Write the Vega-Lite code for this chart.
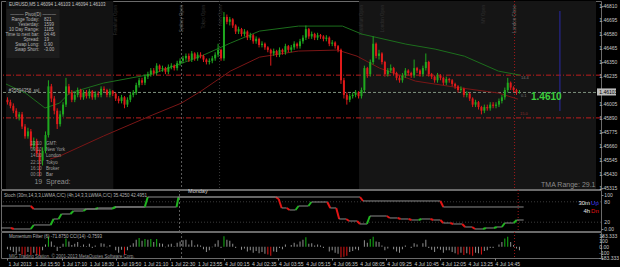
{
"$schema": "https://vega.github.io/schema/vega-lite/v6.json",
"background": "#000000",
"padding": 0,
"spacing": 1,
"bounds": "flush",
"data": {"values": [{}]},
"config": {
  "font": "Liberation Sans",
  "view": {"stroke": "#6a6a6a", "strokeWidth": 1},
  "axis": {"title": null, "grid": false, "labels": false, "ticks": false, "domain": false, "tickColor": "#808080", "tickSize": 2},
  "text": {"font": "Liberation Sans"}
},
"datasets": {
  "candles": [
{"t":0,"o":1.4604,"h":1.4606,"l":1.4600,"c":1.4602,"m":-40},
{"t":1,"o":1.4602,"h":1.4604,"l":1.4597,"c":1.4599,"m":-60},
{"t":2,"o":1.4599,"h":1.4601,"l":1.4593,"c":1.4595,"m":-90},
{"t":3,"o":1.4595,"h":1.4597,"l":1.4588,"c":1.4590,"m":-120},
{"t":4,"o":1.4590,"h":1.4594,"l":1.4587,"c":1.4592,"m":-80},
{"t":5,"o":1.4592,"h":1.4594,"l":1.4580,"c":1.4582,"m":-130},
{"t":6,"o":1.4582,"h":1.4584,"l":1.4572,"c":1.4574,"m":-150},
{"t":7,"o":1.4574,"h":1.4581,"l":1.4572,"c":1.4578,"m":-90},
{"t":8,"o":1.4578,"h":1.4580,"l":1.4564,"c":1.4566,"m":-140},
{"t":9,"o":1.4566,"h":1.4573,"l":1.4563,"c":1.4570,"m":-100},
{"t":10,"o":1.4570,"h":1.4572,"l":1.4557,"c":1.4560,"m":-130},
{"t":11,"o":1.4560,"h":1.4563,"l":1.4541,"c":1.4554,"m":-150},
{"t":12,"o":1.4554,"h":1.4565,"l":1.4550,"c":1.4562,"m":-60},
{"t":13,"o":1.4562,"h":1.4578,"l":1.4560,"c":1.4575,"m":40},
{"t":14,"o":1.4575,"h":1.4620,"l":1.4573,"c":1.4615,"m":170},
{"t":15,"o":1.4615,"h":1.4617,"l":1.4602,"c":1.4605,"m":90},
{"t":16,"o":1.4605,"h":1.4607,"l":1.4592,"c":1.4595,"m":20},
{"t":17,"o":1.4595,"h":1.4597,"l":1.4580,"c":1.4584,"m":-70},
{"t":18,"o":1.4584,"h":1.4595,"l":1.4582,"c":1.4592,"m":-20},
{"t":19,"o":1.4592,"h":1.4602,"l":1.4590,"c":1.4600,"m":50},
{"t":20,"o":1.4600,"h":1.4622,"l":1.4598,"c":1.4615,"m":140},
{"t":21,"o":1.4615,"h":1.4617,"l":1.4608,"c":1.4610,"m":90},
{"t":22,"o":1.4610,"h":1.4612,"l":1.4602,"c":1.4604,"m":30},
{"t":23,"o":1.4604,"h":1.4610,"l":1.4602,"c":1.4608,"m":50},
{"t":24,"o":1.4608,"h":1.4614,"l":1.4606,"c":1.4612,"m":80},
{"t":25,"o":1.4612,"h":1.4613,"l":1.4604,"c":1.4606,"m":10},
{"t":26,"o":1.4606,"h":1.4612,"l":1.4604,"c":1.4610,"m":40},
{"t":27,"o":1.4610,"h":1.4612,"l":1.4605,"c":1.4607,"m":10},
{"t":28,"o":1.4607,"h":1.4613,"l":1.4605,"c":1.4611,"m":50},
{"t":29,"o":1.4611,"h":1.4612,"l":1.4604,"c":1.4606,"m":-20},
{"t":30,"o":1.4606,"h":1.4611,"l":1.4604,"c":1.4609,"m":20},
{"t":31,"o":1.4609,"h":1.4611,"l":1.4606,"c":1.4608,"m":0},
{"t":32,"o":1.4608,"h":1.4615,"l":1.4606,"c":1.4613,"m":60},
{"t":33,"o":1.4613,"h":1.4615,"l":1.4610,"c":1.4612,"m":50},
{"t":34,"o":1.4612,"h":1.4613,"l":1.4606,"c":1.4608,"m":-10},
{"t":35,"o":1.4608,"h":1.4613,"l":1.4606,"c":1.4611,"m":30},
{"t":36,"o":1.4611,"h":1.4612,"l":1.4607,"c":1.4609,"m":0},
{"t":37,"o":1.4609,"h":1.4610,"l":1.4603,"c":1.4605,"m":-60},
{"t":38,"o":1.4605,"h":1.4607,"l":1.4601,"c":1.4603,"m":-100},
{"t":39,"o":1.4603,"h":1.4608,"l":1.4601,"c":1.4606,"m":-50},
{"t":40,"o":1.4606,"h":1.4607,"l":1.4597,"c":1.4600,"m":-130},
{"t":41,"o":1.4600,"h":1.4606,"l":1.4598,"c":1.4604,"m":-60},
{"t":42,"o":1.4604,"h":1.4610,"l":1.4602,"c":1.4608,"m":20},
{"t":43,"o":1.4608,"h":1.4612,"l":1.4606,"c":1.4610,"m":60},
{"t":44,"o":1.4610,"h":1.4618,"l":1.4608,"c":1.4616,"m":120},
{"t":45,"o":1.4616,"h":1.4622,"l":1.4614,"c":1.4620,"m":150},
{"t":46,"o":1.4620,"h":1.4622,"l":1.4616,"c":1.4618,"m":100},
{"t":47,"o":1.4618,"h":1.4625,"l":1.4616,"c":1.4623,"m":130},
{"t":48,"o":1.4623,"h":1.4627,"l":1.4621,"c":1.4625,"m":120},
{"t":49,"o":1.4625,"h":1.4630,"l":1.4623,"c":1.4628,"m":130},
{"t":50,"o":1.4628,"h":1.4630,"l":1.4624,"c":1.4626,"m":80},
{"t":51,"o":1.4626,"h":1.4634,"l":1.4624,"c":1.4632,"m":130},
{"t":52,"o":1.4632,"h":1.4633,"l":1.4627,"c":1.4629,"m":60},
{"t":53,"o":1.4629,"h":1.4632,"l":1.4627,"c":1.4630,"m":50},
{"t":54,"o":1.4630,"h":1.4631,"l":1.4625,"c":1.4627,"m":-10},
{"t":55,"o":1.4627,"h":1.4633,"l":1.4625,"c":1.4631,"m":40},
{"t":56,"o":1.4631,"h":1.4634,"l":1.4629,"c":1.4632,"m":50},
{"t":57,"o":1.4632,"h":1.4633,"l":1.4628,"c":1.4630,"m":10},
{"t":58,"o":1.4630,"h":1.4636,"l":1.4628,"c":1.4634,"m":70},
{"t":59,"o":1.4634,"h":1.4638,"l":1.4632,"c":1.4636,"m":90},
{"t":60,"o":1.4636,"h":1.4640,"l":1.4634,"c":1.4638,"m":110},
{"t":61,"o":1.4638,"h":1.4642,"l":1.4636,"c":1.4640,"m":120},
{"t":62,"o":1.4640,"h":1.4642,"l":1.4635,"c":1.4637,"m":40},
{"t":63,"o":1.4637,"h":1.4644,"l":1.4635,"c":1.4642,"m":110},
{"t":64,"o":1.4642,"h":1.4643,"l":1.4636,"c":1.4638,"m":20},
{"t":65,"o":1.4638,"h":1.4643,"l":1.4636,"c":1.4641,"m":40},
{"t":66,"o":1.4641,"h":1.4643,"l":1.4638,"c":1.4640,"m":20},
{"t":67,"o":1.4640,"h":1.4641,"l":1.4635,"c":1.4637,"m":-40},
{"t":68,"o":1.4637,"h":1.4638,"l":1.4633,"c":1.4635,"m":-90},
{"t":69,"o":1.4635,"h":1.4638,"l":1.4633,"c":1.4636,"m":-60},
{"t":70,"o":1.4636,"h":1.4640,"l":1.4634,"c":1.4638,"m":-10},
{"t":71,"o":1.4638,"h":1.4643,"l":1.4636,"c":1.4641,"m":50},
{"t":72,"o":1.4641,"h":1.4650,"l":1.4639,"c":1.4645,"m":110},
{"t":73,"o":1.4645,"h":1.4646,"l":1.4636,"c":1.4638,"m":-20},
{"t":74,"o":1.4638,"h":1.4676,"l":1.4636,"c":1.4672,"m":180},
{"t":75,"o":1.4672,"h":1.4674,"l":1.4666,"c":1.4668,"m":120},
{"t":76,"o":1.4668,"h":1.4672,"l":1.4665,"c":1.4670,"m":100},
{"t":77,"o":1.4670,"h":1.4671,"l":1.4663,"c":1.4665,"m":50},
{"t":78,"o":1.4665,"h":1.4666,"l":1.4658,"c":1.4660,"m":-20},
{"t":79,"o":1.4660,"h":1.4664,"l":1.4658,"c":1.4662,"m":0},
{"t":80,"o":1.4662,"h":1.4663,"l":1.4656,"c":1.4658,"m":-50},
{"t":81,"o":1.4658,"h":1.4662,"l":1.4656,"c":1.4660,"m":-30},
{"t":82,"o":1.4660,"h":1.4661,"l":1.4653,"c":1.4655,"m":-80},
{"t":83,"o":1.4655,"h":1.4659,"l":1.4653,"c":1.4657,"m":-60},
{"t":84,"o":1.4657,"h":1.4658,"l":1.4650,"c":1.4652,"m":-100},
{"t":85,"o":1.4652,"h":1.4656,"l":1.4650,"c":1.4654,"m":-70},
{"t":86,"o":1.4654,"h":1.4655,"l":1.4647,"c":1.4649,"m":-110},
{"t":87,"o":1.4649,"h":1.4652,"l":1.4647,"c":1.4650,"m":-90},
{"t":88,"o":1.4650,"h":1.4651,"l":1.4645,"c":1.4647,"m":-120},
{"t":89,"o":1.4647,"h":1.4648,"l":1.4643,"c":1.4645,"m":-130},
{"t":90,"o":1.4645,"h":1.4646,"l":1.4632,"c":1.4642,"m":-150},
{"t":91,"o":1.4642,"h":1.4646,"l":1.4640,"c":1.4644,"m":-80},
{"t":92,"o":1.4644,"h":1.4645,"l":1.4639,"c":1.4641,"m":-90},
{"t":93,"o":1.4641,"h":1.4647,"l":1.4639,"c":1.4645,"m":-20},
{"t":94,"o":1.4645,"h":1.4646,"l":1.4641,"c":1.4643,"m":-40},
{"t":95,"o":1.4643,"h":1.4650,"l":1.4641,"c":1.4648,"m":40},
{"t":96,"o":1.4648,"h":1.4649,"l":1.4643,"c":1.4645,"m":0},
{"t":97,"o":1.4645,"h":1.4649,"l":1.4643,"c":1.4647,"m":30},
{"t":98,"o":1.4647,"h":1.4652,"l":1.4645,"c":1.4650,"m":70},
{"t":99,"o":1.4650,"h":1.4651,"l":1.4646,"c":1.4648,"m":40},
{"t":100,"o":1.4648,"h":1.4654,"l":1.4646,"c":1.4652,"m":90},
{"t":101,"o":1.4652,"h":1.4657,"l":1.4650,"c":1.4655,"m":120},
{"t":102,"o":1.4655,"h":1.4665,"l":1.4653,"c":1.4662,"m":160},
{"t":103,"o":1.4662,"h":1.4663,"l":1.4654,"c":1.4656,"m":50},
{"t":104,"o":1.4656,"h":1.4660,"l":1.4654,"c":1.4658,"m":60},
{"t":105,"o":1.4658,"h":1.4659,"l":1.4653,"c":1.4655,"m":20},
{"t":106,"o":1.4655,"h":1.4659,"l":1.4653,"c":1.4657,"m":40},
{"t":107,"o":1.4657,"h":1.4658,"l":1.4654,"c":1.4656,"m":20},
{"t":108,"o":1.4656,"h":1.4657,"l":1.4652,"c":1.4654,"m":-20},
{"t":109,"o":1.4654,"h":1.4657,"l":1.4652,"c":1.4655,"m":0},
{"t":110,"o":1.4655,"h":1.4656,"l":1.4648,"c":1.4650,"m":-80},
{"t":111,"o":1.4650,"h":1.4653,"l":1.4648,"c":1.4651,"m":-60},
{"t":112,"o":1.4651,"h":1.4652,"l":1.4646,"c":1.4648,"m":-100},
{"t":113,"o":1.4648,"h":1.4649,"l":1.4643,"c":1.4645,"m":-120},
{"t":114,"o":1.4645,"h":1.4646,"l":1.4617,"c":1.4620,"m":-180},
{"t":115,"o":1.4620,"h":1.4622,"l":1.4605,"c":1.4608,"m":-170},
{"t":116,"o":1.4608,"h":1.4610,"l":1.4600,"c":1.4604,"m":-150},
{"t":117,"o":1.4604,"h":1.4609,"l":1.4602,"c":1.4607,"m":-90},
{"t":118,"o":1.4607,"h":1.4610,"l":1.4605,"c":1.4608,"m":-70},
{"t":119,"o":1.4608,"h":1.4612,"l":1.4606,"c":1.4610,"m":-40},
{"t":120,"o":1.4610,"h":1.4611,"l":1.4605,"c":1.4607,"m":-60},
{"t":121,"o":1.4607,"h":1.4614,"l":1.4605,"c":1.4612,"m":0},
{"t":122,"o":1.4612,"h":1.4632,"l":1.4610,"c":1.4630,"m":110},
{"t":123,"o":1.4630,"h":1.4631,"l":1.4622,"c":1.4625,"m":70},
{"t":124,"o":1.4625,"h":1.4637,"l":1.4623,"c":1.4635,"m":130},
{"t":125,"o":1.4635,"h":1.4656,"l":1.4633,"c":1.4650,"m":170},
{"t":126,"o":1.4650,"h":1.4651,"l":1.4638,"c":1.4640,"m":90},
{"t":127,"o":1.4640,"h":1.4645,"l":1.4637,"c":1.4642,"m":80},
{"t":128,"o":1.4642,"h":1.4643,"l":1.4633,"c":1.4635,"m":20},
{"t":129,"o":1.4635,"h":1.4636,"l":1.4623,"c":1.4625,"m":-60},
{"t":130,"o":1.4625,"h":1.4630,"l":1.4623,"c":1.4628,"m":-30},
{"t":131,"o":1.4628,"h":1.4633,"l":1.4626,"c":1.4630,"m":0},
{"t":132,"o":1.4630,"h":1.4631,"l":1.4624,"c":1.4626,"m":-40},
{"t":133,"o":1.4626,"h":1.4627,"l":1.4620,"c":1.4622,"m":-80},
{"t":134,"o":1.4622,"h":1.4624,"l":1.4618,"c":1.4620,"m":-100},
{"t":135,"o":1.4620,"h":1.4626,"l":1.4618,"c":1.4624,"m":-40},
{"t":136,"o":1.4624,"h":1.4630,"l":1.4622,"c":1.4628,"m":20},
{"t":137,"o":1.4628,"h":1.4629,"l":1.4624,"c":1.4626,"m":0},
{"t":138,"o":1.4626,"h":1.4627,"l":1.4622,"c":1.4624,"m":-20},
{"t":139,"o":1.4624,"h":1.4637,"l":1.4622,"c":1.4630,"m":60},
{"t":140,"o":1.4630,"h":1.4631,"l":1.4626,"c":1.4628,"m":40},
{"t":141,"o":1.4628,"h":1.4629,"l":1.4623,"c":1.4625,"m":0},
{"t":142,"o":1.4625,"h":1.4632,"l":1.4623,"c":1.4630,"m":60},
{"t":143,"o":1.4630,"h":1.4642,"l":1.4628,"c":1.4635,"m":120},
{"t":144,"o":1.4635,"h":1.4636,"l":1.4623,"c":1.4625,"m":-20},
{"t":145,"o":1.4625,"h":1.4626,"l":1.4621,"c":1.4623,"m":-50},
{"t":146,"o":1.4623,"h":1.4624,"l":1.4618,"c":1.4620,"m":-90},
{"t":147,"o":1.4620,"h":1.4626,"l":1.4618,"c":1.4624,"m":-30},
{"t":148,"o":1.4624,"h":1.4625,"l":1.4620,"c":1.4622,"m":-50},
{"t":149,"o":1.4622,"h":1.4623,"l":1.4616,"c":1.4618,"m":-100},
{"t":150,"o":1.4618,"h":1.4623,"l":1.4616,"c":1.4621,"m":-60},
{"t":151,"o":1.4621,"h":1.4622,"l":1.4618,"c":1.4620,"m":-60},
{"t":152,"o":1.4620,"h":1.4621,"l":1.4615,"c":1.4617,"m":-90},
{"t":153,"o":1.4617,"h":1.4618,"l":1.4613,"c":1.4615,"m":-110},
{"t":154,"o":1.4615,"h":1.4616,"l":1.4610,"c":1.4612,"m":-130},
{"t":155,"o":1.4612,"h":1.4615,"l":1.4610,"c":1.4613,"m":-100},
{"t":156,"o":1.4613,"h":1.4614,"l":1.4606,"c":1.4608,"m":-140},
{"t":157,"o":1.4608,"h":1.4611,"l":1.4606,"c":1.4609,"m":-110},
{"t":158,"o":1.4609,"h":1.4610,"l":1.4603,"c":1.4605,"m":-130},
{"t":159,"o":1.4605,"h":1.4606,"l":1.4598,"c":1.4600,"m":-150},
{"t":160,"o":1.4600,"h":1.4604,"l":1.4598,"c":1.4602,"m":-100},
{"t":161,"o":1.4602,"h":1.4603,"l":1.4596,"c":1.4598,"m":-110},
{"t":162,"o":1.4598,"h":1.4599,"l":1.4592,"c":1.4595,"m":-130},
{"t":163,"o":1.4595,"h":1.4600,"l":1.4593,"c":1.4598,"m":-70},
{"t":164,"o":1.4598,"h":1.4600,"l":1.4595,"c":1.4597,"m":-60},
{"t":165,"o":1.4597,"h":1.4602,"l":1.4595,"c":1.4600,"m":-20},
{"t":166,"o":1.4600,"h":1.4602,"l":1.4597,"c":1.4599,"m":-20},
{"t":167,"o":1.4599,"h":1.4602,"l":1.4597,"c":1.4600,"m":0},
{"t":168,"o":1.4600,"h":1.4605,"l":1.4598,"c":1.4603,"m":40},
{"t":169,"o":1.4603,"h":1.4608,"l":1.4601,"c":1.4606,"m":80},
{"t":170,"o":1.4606,"h":1.4614,"l":1.4604,"c":1.4612,"m":140},
{"t":171,"o":1.4612,"h":1.4622,"l":1.4610,"c":1.4618,"m":170},
{"t":172,"o":1.4618,"h":1.4619,"l":1.4612,"c":1.4614,"m":80},
{"t":173,"o":1.4614,"h":1.4615,"l":1.4610,"c":1.4612,"m":30},
{"t":174,"o":1.4612,"h":1.4613,"l":1.4608,"c":1.4610,"m":-30},
{"t":175,"o":1.4610,"h":1.4612,"l":1.4609,"c":1.4610,"m":-60}
  ],
  "tma": [
{"b":"u","t":-0.5,"p":1.46169},{"b":"u","t":6.17,"p":1.46095},{"b":"u","t":12.83,"p":1.45972},{"b":"u","t":17.83,"p":1.46013},{"b":"u","t":21.17,"p":1.46095},{"b":"u","t":32.83,"p":1.46177},{"b":"u","t":49.5,"p":1.46251},{"b":"u","t":66.17,"p":1.46398},{"b":"u","t":76.17,"p":1.46505},{"b":"u","t":86.17,"p":1.46604},{"b":"u","t":99.5,"p":1.46645},{"b":"u","t":114.5,"p":1.46645},{"b":"u","t":121.17,"p":1.46579},{"b":"u","t":136.17,"p":1.46497},{"b":"u","t":146.17,"p":1.46456},{"b":"u","t":156.17,"p":1.46398},{"b":"u","t":167.83,"p":1.46275},{"b":"u","t":175.17,"p":1.46242},
{"b":"l","t":14.5,"p":1.45553},{"b":"l","t":17.83,"p":1.45577},{"b":"l","t":32.83,"p":1.45742},{"b":"l","t":49.5,"p":1.45914},{"b":"l","t":59.5,"p":1.46013},{"b":"l","t":66.17,"p":1.46111},{"b":"l","t":76.17,"p":1.46275},{"b":"l","t":86.17,"p":1.4639},{"b":"l","t":99.5,"p":1.4644},{"b":"l","t":112.83,"p":1.46448},{"b":"l","t":119.5,"p":1.46398},{"b":"l","t":127.17,"p":1.463},{"b":"l","t":139.5,"p":1.46193},{"b":"l","t":152.83,"p":1.46144},{"b":"l","t":167.83,"p":1.46095},{"b":"l","t":174.5,"p":1.46045}
  ],
  "stoch": [
{"a":-0.5,"b":2.83,"u":3,"w":3,"d":"f"},{"a":2.83,"b":3.83,"u":3,"w":0,"d":"d"},{"a":3.83,"b":9.5,"u":0,"w":0,"d":"f"},{"a":9.5,"b":10.5,"u":0,"w":11.8,"d":"u"},{"a":10.5,"b":16.17,"u":11.8,"w":11.8,"d":"f"},{"a":16.17,"b":17.17,"u":11.8,"w":29.4,"d":"u"},{"a":17.17,"b":18.83,"u":29.4,"w":29.4,"d":"f"},{"a":18.83,"b":19.83,"u":29.4,"w":44.1,"d":"u"},{"a":19.83,"b":22.83,"u":44.1,"w":44.1,"d":"f"},{"a":22.83,"b":23.83,"u":44.1,"w":52.9,"d":"u"},{"a":23.83,"b":27.17,"u":52.9,"w":52.9,"d":"f"},{"a":27.17,"b":28.17,"u":52.9,"w":58.8,"d":"u"},{"a":28.17,"b":31.17,"u":58.8,"w":58.8,"d":"f"},{"a":31.17,"b":32.17,"u":58.8,"w":61.8,"d":"u"},{"a":32.17,"b":37.17,"u":61.8,"w":61.8,"d":"f"},{"a":37.17,"b":38.17,"u":61.8,"w":64.7,"d":"u"},{"a":38.17,"b":58.5,"u":64.7,"w":64.7,"d":"f"},{"a":58.5,"b":59.17,"u":64.7,"w":94.1,"d":"u"},{"a":59.17,"b":91.83,"u":94.1,"w":94.1,"d":"f"},{"a":91.83,"b":92.83,"u":94.1,"w":88.2,"d":"d"},{"a":92.83,"b":93.83,"u":88.2,"w":61.8,"d":"d"},{"a":93.83,"b":95.5,"u":61.8,"w":61.8,"d":"f"},{"a":95.5,"b":96.5,"u":61.8,"w":55.9,"d":"d"},{"a":96.5,"b":98.5,"u":55.9,"w":55.9,"d":"f"},{"a":98.5,"b":99.5,"u":55.9,"w":67.6,"d":"u"},{"a":99.5,"b":102.83,"u":67.6,"w":67.6,"d":"f"},{"a":102.83,"b":103.83,"u":67.6,"w":79.4,"d":"u"},{"a":103.83,"b":109.17,"u":79.4,"w":79.4,"d":"f"},{"a":109.17,"b":110.17,"u":79.4,"w":61.8,"d":"d"},{"a":110.17,"b":112.17,"u":61.8,"w":61.8,"d":"f"},{"a":112.17,"b":113.17,"u":61.8,"w":29.4,"d":"d"},{"a":113.17,"b":115.5,"u":29.4,"w":29.4,"d":"f"},{"a":115.5,"b":116.5,"u":29.4,"w":23.5,"d":"d"},{"a":116.5,"b":119.17,"u":23.5,"w":23.5,"d":"f"},{"a":119.17,"b":120.17,"u":23.5,"w":14.7,"d":"d"},{"a":120.17,"b":122.5,"u":14.7,"w":14.7,"d":"f"},{"a":122.5,"b":123.5,"u":14.7,"w":38.2,"d":"u"},{"a":123.5,"b":129.17,"u":38.2,"w":38.2,"d":"f"},{"a":129.17,"b":130.17,"u":38.2,"w":32.4,"d":"d"},{"a":130.17,"b":132.83,"u":32.4,"w":32.4,"d":"f"},{"a":132.83,"b":133.83,"u":32.4,"w":29.4,"d":"d"},{"a":133.83,"b":136.5,"u":29.4,"w":29.4,"d":"f"},{"a":136.5,"b":137.5,"u":29.4,"w":26.5,"d":"d"},{"a":137.5,"b":139.83,"u":26.5,"w":26.5,"d":"f"},{"a":139.83,"b":140.83,"u":26.5,"w":29.4,"d":"u"},{"a":140.83,"b":143.83,"u":29.4,"w":29.4,"d":"f"},{"a":143.83,"b":144.83,"u":29.4,"w":26.5,"d":"d"},{"a":144.83,"b":147.17,"u":26.5,"w":26.5,"d":"f"},{"a":147.17,"b":148.17,"u":26.5,"w":17.6,"d":"d"},{"a":148.17,"b":150.5,"u":17.6,"w":17.6,"d":"f"},{"a":150.5,"b":151.5,"u":17.6,"w":14.7,"d":"d"},{"a":151.5,"b":154.5,"u":14.7,"w":14.7,"d":"f"},{"a":154.5,"b":155.5,"u":14.7,"w":5.9,"d":"d"},{"a":155.5,"b":157.83,"u":5.9,"w":5.9,"d":"f"},{"a":157.83,"b":158.83,"u":5.9,"w":0,"d":"d"},{"a":158.83,"b":161.5,"u":0,"w":0,"d":"f"},{"a":161.5,"b":162.5,"u":0,"w":2.9,"d":"u"},{"a":162.5,"b":165.17,"u":2.9,"w":2.9,"d":"f"},{"a":165.17,"b":166.17,"u":2.9,"w":5.9,"d":"u"},{"a":166.17,"b":167.83,"u":5.9,"w":5.9,"d":"f"},{"a":167.83,"b":168.83,"u":5.9,"w":17.6,"d":"u"},{"a":168.83,"b":171.83,"u":17.6,"w":17.6,"d":"f"},{"a":171.83,"b":172.83,"u":17.6,"w":26.5,"d":"u"},{"a":172.83,"b":175.17,"u":26.5,"w":26.5,"d":"f"},
{"a":-0.5,"b":9.5,"u":67.6,"w":67.6,"d":"f"},{"a":9.5,"b":10.5,"u":67.6,"w":58.8,"d":"d"},{"a":10.5,"b":36.83,"u":58.8,"w":58.8,"d":"f"},{"a":36.83,"b":37.83,"u":58.8,"w":64.7,"d":"u"},{"a":37.83,"b":47.83,"u":64.7,"w":64.7,"d":"f"},{"a":47.83,"b":48.83,"u":64.7,"w":94.1,"d":"u"},{"a":48.83,"b":120.17,"u":94.1,"w":94.1,"d":"f"},{"a":120.17,"b":121.17,"u":94.1,"w":82.4,"d":"d"},{"a":121.17,"b":147.17,"u":82.4,"w":82.4,"d":"f"},{"a":147.17,"b":148.17,"u":82.4,"w":64.7,"d":"d"},{"a":148.17,"b":175.17,"u":64.7,"w":64.7,"d":"f"}
  ],
  "events": [
{"t":37.17,"n":"Frankfurt Open"},{"t":59.5,"n":"Sydney Open"},{"t":67.17,"n":"Tokyo Open"},{"t":72.83,"n":"Asia Open"},{"t":121.17,"n":"Frankfurt Open"},{"t":128.5,"n":"London Open"},{"t":162.83,"n":"NY Open"},{"t":173.5,"n":"London Close"}
  ],
  "pricelabels": [{"p":1.4681},{"p":1.46695},{"p":1.4658},{"p":1.46465},{"p":1.4635},{"p":1.46235},{"p":1.46005},{"p":1.4589},{"p":1.45775},{"p":1.4566},{"p":1.45545},{"p":1.4543},{"p":1.45315}],
  "stochlabels": [{"v":100,"s":"100"},{"v":80,"s":"80"},{"v":20,"s":"20"},{"v":0,"s":"0.00"}],
  "ccilabels": [{"v":183.333,"s":"183.333"},{"v":100,"s":"100"},{"v":0,"s":"0.00"},{"v":-100,"s":"-100"},{"v":-183.333,"s":"-183.333"}],
  "timelabels": [{"t":0,"s":"1 Jul 2013"},{"t":9.25,"s":"1 Jul 15:50"},{"t":18.5,"s":"1 Jul 17:10"},{"t":27.75,"s":"1 Jul 18:30"},{"t":37,"s":"1 Jul 19:50"},{"t":46.25,"s":"1 Jul 21:10"},{"t":55.5,"s":"1 Jul 22:30"},{"t":64.75,"s":"1 Jul 23:55"},{"t":74,"s":"4 Jul 00:15"},{"t":83.25,"s":"4 Jul 02:35"},{"t":92.5,"s":"4 Jul 03:55"},{"t":101.75,"s":"4 Jul 05:15"},{"t":111,"s":"4 Jul 06:35"},{"t":120.25,"s":"4 Jul 08:05"},{"t":129.5,"s":"4 Jul 09:25"},{"t":138.75,"s":"4 Jul 10:45"},{"t":148,"s":"4 Jul 12:05"},{"t":157.25,"s":"4 Jul 13:25"},{"t":166.5,"s":"4 Jul 14:45"}]
},
"vconcat": [
{
  "width": 600, "height": 188,
  "layer": [
    {"mark": {"type": "rect", "color": "#121212"}, "encoding": {"x": {"datum": -0.5, "type": "quantitative", "scale": {"domain": [-0.5, 201.1667], "nice": false, "zero": false}}, "x2": {"datum": 36.17}, "y": {"datum": 1.46851, "type": "quantitative", "scale": {"domain": [1.45307, 1.46851], "nice": false, "zero": false}}, "y2": {"datum": 1.45307}}},
    {"mark": {"type": "rect", "color": "#151515"}, "encoding": {"x": {"datum": 120.17, "type": "quantitative"}, "x2": {"datum": 201.1667}, "y": {"datum": 1.46851, "type": "quantitative"}, "y2": {"datum": 1.45307}}},
    {"mark": {"type": "rect", "color": "#1c1c1c"}, "encoding": {"x": {"datum": -0.33, "type": "quantitative"}, "x2": {"datum": 17.83}, "y": {"datum": 1.46785, "type": "quantitative"}, "y2": {"datum": 1.46383}}},
    {"mark": {"type": "rule", "color": "#bb1e1e", "strokeWidth": 1, "strokeDash": [5, 2, 1, 2]}, "encoding": {"y": {"datum": 1.46242, "type": "quantitative"}}},
    {"mark": {"type": "rule", "color": "#bb1e1e", "strokeWidth": 1, "strokeDash": [5, 2, 1, 2]}, "encoding": {"y": {"datum": 1.45891, "type": "quantitative"}}},
    {"mark": {"type": "rule", "color": "#7d8f7d", "strokeWidth": 1, "strokeDash": [3, 2]}, "encoding": {"y": {"datum": 1.461, "type": "quantitative"}}},
    {"mark": {"type": "rule", "color": "#5c5c5c", "strokeDash": [2, 2]}, "encoding": {"x": {"datum": 59.5, "type": "quantitative"}}},
    {"mark": {"type": "rule", "color": "#3a3a3a", "strokeDash": [1, 2]}, "encoding": {"x": {"datum": 72.5, "type": "quantitative"}}},
    {"mark": {"type": "rule", "color": "#a01818", "strokeDash": [1, 2]}, "encoding": {"x": {"datum": 173.33, "type": "quantitative"}}},
    {"mark": {"type": "rule", "color": "#2a2aa8"}, "encoding": {"x": {"datum": 188.83, "type": "quantitative"}, "y": {"datum": 1.46769, "type": "quantitative"}, "y2": {"datum": 1.45948}}},
    {"data": {"name": "events"}, "mark": {"type": "text", "angle": 270, "align": "right", "baseline": "middle", "fontSize": 4.5}, "encoding": {"x": {"field": "t", "type": "quantitative"}, "y": {"datum": 1.46818, "type": "quantitative"}, "text": {"field": "n"}, "color": {"condition": {"test": "datum.t == 59.5 || datum.t == 173.5", "value": "#6a6a6a"}, "value": "#303030"}}},
    {"data": {"name": "tma"}, "mark": {"type": "line", "strokeWidth": 1}, "encoding": {"x": {"field": "t", "type": "quantitative"}, "y": {"field": "p", "type": "quantitative"}, "color": {"field": "b", "type": "nominal", "scale": {"domain": ["u", "l"], "range": ["#1c6e1c", "#7a1616"]}, "legend": null}}},
    {"data": {"name": "candles"}, "mark": {"type": "rule", "strokeWidth": 1}, "encoding": {"x": {"field": "t", "type": "quantitative"}, "y": {"field": "l", "type": "quantitative"}, "y2": {"field": "h"}, "color": {"condition": {"test": "datum.c >= datum.o", "value": "#1fa81f"}, "value": "#e01a1a"}}},
    {"data": {"name": "candles"}, "mark": {"type": "bar", "size": 2}, "encoding": {"x": {"field": "t", "type": "quantitative"}, "y": {"field": "o", "type": "quantitative", "axis": {"orient": "right", "ticks": true, "values": [1.4681, 1.46695, 1.4658, 1.46465, 1.4635, 1.46235, 1.46005, 1.4589, 1.45775, 1.4566, 1.45545, 1.4543, 1.45315]}}, "y2": {"field": "c"}, "color": {"condition": {"test": "datum.c >= datum.o", "value": "#1fa81f"}, "value": "#e01a1a"}}},
    {"data": {"name": "pricelabels"}, "mark": {"type": "text", "align": "left", "baseline": "middle", "fontSize": 5, "color": "#c8c8c8"}, "encoding": {"x": {"datum": 202.3, "type": "quantitative"}, "y": {"field": "p", "type": "quantitative"}, "text": {"field": "p", "type": "quantitative", "format": ".5f"}}},
    {"mark": {"type": "rect", "color": "#bdbdbd"}, "encoding": {"x": {"datum": 201.5, "type": "quantitative"}, "x2": {"datum": 208}, "y": {"datum": 1.46133, "type": "quantitative"}, "y2": {"datum": 1.46075}}},
    {"mark": {"type": "text", "align": "left", "baseline": "middle", "fontSize": 5, "color": "#000000"}, "encoding": {"x": {"datum": 202.3, "type": "quantitative"}, "y": {"datum": 1.46104, "type": "quantitative"}, "text": {"value": "1.46103"}}},
    {"mark": {"type": "text", "align": "left", "baseline": "middle", "fontSize": 4.5, "color": "#c4c4c4"}, "encoding": {"x": {"datum": 0.5, "type": "quantitative"}, "y": {"datum": 1.46818, "type": "quantitative"}, "text": {"value": "EURUSD,M5  1.46094 1.46103 1.46094 1.46103"}}},
    {"mark": {"type": "text", "align": "center", "baseline": "middle", "fontSize": 4.5, "color": "#b4b4b4"}, "encoding": {"x": {"datum": 8.8, "type": "quantitative"}, "y": {"datum": 1.46732, "type": "quantitative"}, "text": {"value": "———   Pivot(D)   ———"}}},
    {"mark": {"type": "text", "align": "right", "baseline": "middle", "fontSize": 4.5, "lineHeight": 5, "color": "#b4b4b4"}, "encoding": {"x": {"datum": 10.83, "type": "quantitative"}, "y": {"datum": 1.46691, "type": "quantitative"}, "text": {"value": ["Range  Today:", "Yesterday:", "10 Day Range:", "Time to next bar:", "Spread:", "Swap  Long:", "Swap  Short:"]}}},
    {"mark": {"type": "text", "align": "left", "baseline": "middle", "fontSize": 4.5, "lineHeight": 5, "color": "#b4b4b4"}, "encoding": {"x": {"datum": 12.5, "type": "quantitative"}, "y": {"datum": 1.46691, "type": "quantitative"}, "text": {"value": ["821", "1599", "1185", "04:46", "19", "0.90", "-3.00"]}}},
    {"mark": {"type": "text", "align": "left", "baseline": "middle", "fontSize": 4.5, "color": "#b0b0b0"}, "encoding": {"x": {"datum": 0.4, "type": "quantitative"}, "y": {"datum": 1.46108, "type": "quantitative"}, "text": {"value": "#35894358_ssl"}}},
    {"mark": {"type": "text", "align": "right", "baseline": "middle", "fontSize": 4.5, "lineHeight": 6.3, "color": "#8e8e8e"}, "encoding": {"x": {"datum": 11.73, "type": "quantitative"}, "y": {"datum": 1.45679, "type": "quantitative"}, "text": {"value": ["13:10", "09:10", "14:10", "22:10", "16:10", "00:00"]}}},
    {"mark": {"type": "text", "align": "left", "baseline": "middle", "fontSize": 4.5, "lineHeight": 6.3, "color": "#a0a0a0"}, "encoding": {"x": {"datum": 13.17, "type": "quantitative"}, "y": {"datum": 1.45679, "type": "quantitative"}, "text": {"value": ["GMT:", "New York", "London", "Tokyo", "Broker", "Bar"]}}},
    {"mark": {"type": "text", "align": "right", "baseline": "middle", "fontSize": 7, "color": "#8e8e8e"}, "encoding": {"x": {"datum": 11.9, "type": "quantitative"}, "y": {"datum": 1.45367, "type": "quantitative"}, "text": {"value": "19"}}},
    {"mark": {"type": "text", "align": "left", "baseline": "middle", "fontSize": 7, "color": "#8e8e8e"}, "encoding": {"x": {"datum": 13.17, "type": "quantitative"}, "y": {"datum": 1.45367, "type": "quantitative"}, "text": {"value": "Spread:"}}},
    {"mark": {"type": "text", "align": "left", "baseline": "middle", "fontSize": 4, "color": "#767676"}, "encoding": {"x": {"datum": 175.5, "type": "quantitative"}, "y": {"datum": 1.46215, "type": "quantitative"}, "text": {"value": "14.4"}}},
    {"mark": {"type": "text", "align": "left", "baseline": "middle", "fontSize": 4, "color": "#767676"}, "encoding": {"x": {"datum": 175.5, "type": "quantitative"}, "y": {"datum": 1.46071, "type": "quantitative"}, "text": {"value": "0.1"}}},
    {"mark": {"type": "text", "align": "left", "baseline": "middle", "fontSize": 4, "color": "#8c2c2c"}, "encoding": {"x": {"datum": 175.2, "type": "quantitative"}, "y": {"datum": 1.45919, "type": "quantitative"}, "text": {"value": "15.0"}}},
    {"mark": {"type": "text", "align": "center", "baseline": "middle", "fontSize": 10, "fontWeight": "bold", "color": "#3ccf3c"}, "encoding": {"x": {"datum": 184.17, "type": "quantitative"}, "y": {"datum": 1.46063, "type": "quantitative"}, "text": {"value": "1.4610"}}},
    {"mark": {"type": "text", "align": "right", "baseline": "middle", "fontSize": 7, "color": "#8a8a8a"}, "encoding": {"x": {"datum": 201.0, "type": "quantitative"}, "y": {"datum": 1.45336, "type": "quantitative"}, "text": {"value": "TMA Range: 29.1"}}}
  ]
},
{
  "width": 600, "height": 41,
  "layer": [
    {"mark": {"type": "rule", "color": "#3a3a3a", "strokeDash": [1, 2]}, "encoding": {"y": {"datum": 80, "type": "quantitative", "scale": {"domain": [-5.9, 114.7], "nice": false, "zero": false}}}},
    {"mark": {"type": "rule", "color": "#3a3a3a", "strokeDash": [1, 2]}, "encoding": {"y": {"datum": 20, "type": "quantitative"}}},
    {"mark": {"type": "rule", "color": "#5c5c5c", "strokeDash": [2, 2]}, "encoding": {"x": {"datum": 59.5, "type": "quantitative", "scale": {"domain": [-0.5, 201.1667], "nice": false, "zero": false}}}},
    {"mark": {"type": "rule", "color": "#a01818", "strokeDash": [1, 2]}, "encoding": {"x": {"datum": 173.33, "type": "quantitative"}}},
    {"data": {"name": "stoch"}, "mark": {"type": "rule"}, "encoding": {"x": {"field": "a", "type": "quantitative"}, "x2": {"field": "b"}, "y": {"field": "u", "type": "quantitative", "axis": {"orient": "right", "ticks": true, "values": [100, 80, 20, 0]}}, "y2": {"field": "w"}, "color": {"condition": [{"test": "datum.d == 'u'", "value": "#1fb41f"}, {"test": "datum.d == 'd'", "value": "#e01414"}], "value": "#8a8a8a"}, "strokeWidth": {"condition": {"test": "datum.d != 'f'", "value": 2}, "value": 1}}},
    {"data": {"name": "stochlabels"}, "mark": {"type": "text", "align": "left", "baseline": "middle", "fontSize": 5, "color": "#c8c8c8"}, "encoding": {"x": {"datum": 202.3, "type": "quantitative"}, "y": {"field": "v", "type": "quantitative"}, "text": {"field": "s"}}},
    {"mark": {"type": "text", "align": "left", "baseline": "middle", "fontSize": 4.5, "color": "#b4b4b4"}, "encoding": {"x": {"datum": 0.5, "type": "quantitative"}, "y": {"datum": 95.6, "type": "quantitative"}, "text": {"value": "Stoch (30m,14,3,3,LWMA,C/C) (4h,14,3,3,LWMA,C/C) 35.4250 42.4951"}}},
    {"mark": {"type": "text", "align": "center", "baseline": "middle", "fontSize": 5.5, "color": "#d0d0d0"}, "encoding": {"x": {"datum": 65.67, "type": "quantitative"}, "y": {"datum": 111, "type": "quantitative"}, "text": {"value": "Monday"}}},
    {"mark": {"type": "text", "align": "right", "baseline": "middle", "fontSize": 6, "color": "#e6e6e6"}, "encoding": {"x": {"datum": 197.5, "type": "quantitative"}, "y": {"datum": 77.9, "type": "quantitative"}, "text": {"value": "30m"}}},
    {"mark": {"type": "text", "align": "left", "baseline": "middle", "fontSize": 6, "color": "#3a3aff"}, "encoding": {"x": {"datum": 197.83, "type": "quantitative"}, "y": {"datum": 77.9, "type": "quantitative"}, "text": {"value": "Up"}}},
    {"mark": {"type": "text", "align": "right", "baseline": "middle", "fontSize": 6, "color": "#e6e6e6"}, "encoding": {"x": {"datum": 197.5, "type": "quantitative"}, "y": {"datum": 54.4, "type": "quantitative"}, "text": {"value": "4h"}}},
    {"mark": {"type": "text", "align": "left", "baseline": "middle", "fontSize": 6, "color": "#e01414"}, "encoding": {"x": {"datum": 197.83, "type": "quantitative"}, "y": {"datum": 54.4, "type": "quantitative"}, "text": {"value": "Dn"}}}
  ]
},
{
  "width": 600, "height": 26,
  "layer": [
    {"mark": {"type": "rule", "color": "#5c5c5c", "strokeDash": [2, 2]}, "encoding": {"x": {"datum": 59.5, "type": "quantitative", "scale": {"domain": [-0.5, 201.1667], "nice": false, "zero": false}}}},
    {"mark": {"type": "rule", "color": "#a01818", "strokeDash": [1, 2]}, "encoding": {"x": {"datum": 173.33, "type": "quantitative"}}},
    {"data": {"name": "candles"}, "mark": {"type": "bar", "size": 1}, "encoding": {
      "x": {"field": "t", "type": "quantitative", "axis": {"ticks": true, "values": [0, 9.25, 18.5, 27.75, 37, 46.25, 55.5, 64.75, 74, 83.25, 92.5, 101.75, 111, 120.25, 129.5, 138.75, 148, 157.25, 166.5]}},
      "y": {"field": "m", "type": "quantitative", "scale": {"domain": [-190, 250], "nice": false, "zero": false}, "axis": {"orient": "right", "ticks": true, "values": [183.333, 100, 0, -100, -183.333]}},
      "y2": {"datum": 0},
      "color": {"condition": [{"test": "datum.m >= 130", "value": "#16b416"}, {"test": "datum.m <= -130", "value": "#e01414"}], "value": "#909090"}}},
    {"data": {"name": "ccilabels"}, "mark": {"type": "text", "align": "left", "baseline": "middle", "fontSize": 5, "color": "#c8c8c8"}, "encoding": {"x": {"datum": 202.3, "type": "quantitative"}, "y": {"field": "v", "type": "quantitative"}, "text": {"field": "s"}}},
    {"data": {"name": "timelabels"}, "mark": {"type": "text", "align": "left", "baseline": "middle", "fontSize": 5, "color": "#c8c8c8", "dx": 1}, "encoding": {"x": {"field": "t", "type": "quantitative"}, "y": {"datum": -290, "type": "quantitative"}, "text": {"field": "s"}}},
    {"mark": {"type": "text", "align": "left", "baseline": "middle", "fontSize": 4.5, "color": "#b4b4b4"}, "encoding": {"x": {"datum": 0.5, "type": "quantitative"}, "y": {"datum": 157, "type": "quantitative"}, "text": {"value": "Momentum Filter (6) -71.8750  CCI(14) -0.7593"}}},
    {"mark": {"type": "text", "align": "left", "baseline": "middle", "fontSize": 4.5, "color": "#9a9a9a"}, "encoding": {"x": {"datum": 0.5, "type": "quantitative"}, "y": {"datum": -168, "type": "quantitative"}, "text": {"value": "MIG Trading Station, © 2001-2013 MetaQuotes Software Corp."}}}
  ]
}
]
}
